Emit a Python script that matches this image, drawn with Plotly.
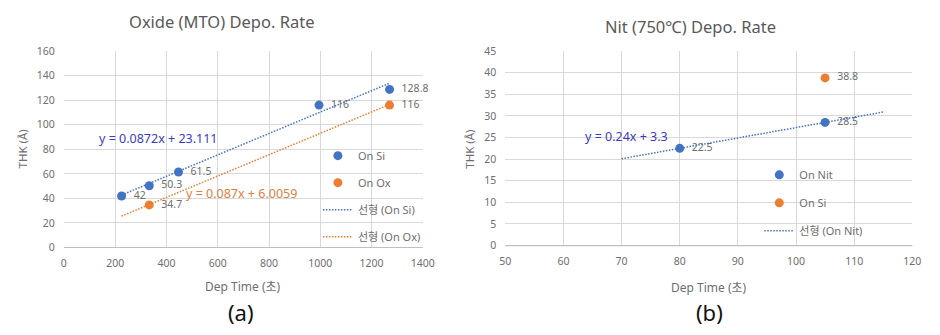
import plotly.graph_objects as go

# ---- Oxide (MTO) data ----
ox_si_time = [225, 333, 447, 995, 1270]
ox_si_thk = [42, 50.3, 61.5, 116, 128.8]
ox_ox_time = [333, 1270]
ox_ox_thk = [34.7, 116]
ox_fit_si = [0.0872, 23.111]     # slope, intercept
ox_fit_ox = [0.087, 6.0059]
ox_fit_span = [225, 1270]

# ---- Nitride (750℃) data ----
nit_nit_time = [80, 105]
nit_nit_thk = [22.5, 28.5]
nit_si_time = [105]
nit_si_thk = [38.8]
nit_fit = [0.24, 3.3]
nit_fit_span = [70, 115]

ox_xticks = [0, 200, 400, 600, 800, 1000, 1200, 1400]
ox_yticks = [0, 20, 40, 60, 80, 100, 120, 140, 160]
nit_xticks = [50, 60, 70, 80, 90, 100, 110, 120]
nit_yticks = [0, 5, 10, 15, 20, 25, 30, 35, 40, 45]

BLUE = "#4472C4"
ORANGE = "#ED7D31"
EQ_BLUE = "#3B3BC4"
EQ_ORANGE = "#D8823F"
GRAY = "#6E6E6E"
FONT = "Noto Sans, Noto Sans CJK KR, sans-serif"
DOT = "1.5px,1.5px"


def fit_line(coef, span):
    m, b = coef
    return span, [m * x + b for x in span]


def eq_text(coef):
    return f"y = {coef[0]}x + {coef[1]}"


def labels(values):
    # a little padding so the value sits clear of its marker
    return [f"  {v:g}" for v in values]


fig = go.Figure()

# left chart
fig.add_trace(go.Scatter(
    x=ox_si_time, y=ox_si_thk, mode="markers+text", name="On Si",
    marker=dict(color=BLUE, size=9), text=labels(ox_si_thk), cliponaxis=False,
    textposition="middle right", textfont=dict(size=10.5, color=GRAY),
    xaxis="x", yaxis="y", legend="legend", legendgroup="a1"))
fig.add_trace(go.Scatter(
    x=ox_ox_time, y=ox_ox_thk, mode="markers+text", name="On Ox",
    marker=dict(color=ORANGE, size=9), text=labels(ox_ox_thk), cliponaxis=False,
    textposition="middle right", textfont=dict(size=10.5, color=GRAY),
    xaxis="x", yaxis="y", legend="legend", legendgroup="a2"))
fx, fy = fit_line(ox_fit_si, ox_fit_span)
fig.add_trace(go.Scatter(
    x=fx, y=fy, mode="lines", name="선형 (On Si)",
    line=dict(color=BLUE, width=1.5, dash=DOT),
    xaxis="x", yaxis="y", legend="legend", legendgroup="a3"))
fx, fy = fit_line(ox_fit_ox, ox_fit_span)
fig.add_trace(go.Scatter(
    x=fx, y=fy, mode="lines", name="선형 (On Ox)",
    line=dict(color=ORANGE, width=1.5, dash=DOT),
    xaxis="x", yaxis="y", legend="legend", legendgroup="a4"))

# right chart
fig.add_trace(go.Scatter(
    x=nit_nit_time, y=nit_nit_thk, mode="markers+text", name="On Nit",
    marker=dict(color=BLUE, size=9), text=labels(nit_nit_thk), cliponaxis=False,
    textposition="middle right", textfont=dict(size=10.5, color=GRAY),
    xaxis="x2", yaxis="y2", legend="legend2", legendgroup="b1"))
fig.add_trace(go.Scatter(
    x=nit_si_time, y=nit_si_thk, mode="markers+text", name="On Si",
    marker=dict(color=ORANGE, size=9), text=labels(nit_si_thk), cliponaxis=False,
    textposition="middle right", textfont=dict(size=10.5, color=GRAY),
    xaxis="x2", yaxis="y2", legend="legend2", legendgroup="b2"))
fx, fy = fit_line(nit_fit, nit_fit_span)
fig.add_trace(go.Scatter(
    x=fx, y=fy, mode="lines", name="선형 (On Nit)",
    line=dict(color=BLUE, width=1.5, dash=DOT),
    xaxis="x2", yaxis="y2", legend="legend2", legendgroup="b3"))

axis_common = dict(
    showgrid=True, gridcolor="#D9D9D9", gridwidth=1, zeroline=False,
    showline=False, ticks="", tickfont=dict(size=10.5, color=GRAY, family=FONT),
    fixedrange=True,
)

fig.update_layout(
    width=940, height=335, margin=dict(l=0, r=0, t=0, b=0),
    paper_bgcolor="white", plot_bgcolor="white",
    font=dict(family=FONT, color=GRAY),
    xaxis=dict(domain=[59 / 940, 425 / 940], range=[0, 1400], tickvals=ox_xticks,
               anchor="y", ticklabelstandoff=8, **axis_common),
    yaxis=dict(domain=[1 - 251 / 335, 1 - 46 / 335], range=[0, 160], tickvals=ox_yticks,
               anchor="x", ticklabelstandoff=8, **axis_common),
    xaxis2=dict(domain=[509 / 940, 924 / 940], range=[50, 120], tickvals=nit_xticks,
                anchor="y2", ticklabelstandoff=8, **axis_common),
    yaxis2=dict(domain=[1 - 249 / 335, 1 - 46 / 335], range=[0, 45], tickvals=nit_yticks,
                anchor="x2", ticklabelstandoff=8, **axis_common),
    legend=dict(x=318 / 940, y=1 - 140 / 335, xanchor="left", yanchor="top",
                bgcolor="rgba(255,255,255,0)", font=dict(size=11, color=GRAY),
                tracegroupgap=8, traceorder="grouped"),
    legend2=dict(x=768 / 940, y=1 - 160 / 335, xanchor="left", yanchor="top",
                 bgcolor="rgba(255,255,255,0)", font=dict(size=11, color=GRAY),
                 tracegroupgap=9, traceorder="grouped"),
    showlegend=True,
)

# bottom axis lines
fig.add_shape(type="line", xref="x domain", yref="y domain", x0=0, x1=1, y0=0, y1=0,
              line=dict(color="#BFBFBF", width=1.2))
fig.add_shape(type="line", xref="x2 domain", yref="y2 domain", x0=0, x1=1, y0=0, y1=0,
              line=dict(color="#BFBFBF", width=1.2))

annotations = [
    # chart titles
    dict(text="Oxide (MTO) Depo. Rate", x=220 / 940, y=1 - 15 / 335,
         font=dict(size=16.5, color="#595959")),
    dict(text="Nit (750℃) Depo. Rate", x=698 / 940, y=1 - 20 / 335,
         font=dict(size=16.5, color="#595959")),
    # axis titles
    dict(text="THK (Å)", x=17 / 940, y=1 - 148 / 335, textangle=-90,
         font=dict(size=11.5, color=GRAY)),
    dict(text="THK (Å)", x=473 / 940, y=1 - 148 / 335, textangle=-90,
         font=dict(size=11.5, color=GRAY)),
    dict(text="Dep Time (초)", x=242 / 940, y=1 - 292 / 335,
         font=dict(size=12, color=GRAY)),
    dict(text="Dep Time (초)", x=717 / 940, y=1 - 293 / 335,
         font=dict(size=12, color=GRAY)),
    # panel labels
    dict(text="(a)", x=240 / 940, y=1 - 318 / 335, font=dict(size=22, color="#111111")),
    dict(text="(b)", x=717 / 940, y=1 - 318 / 335, font=dict(size=22, color="#111111")),
]
for a in annotations:
    fig.add_annotation(xref="paper", yref="paper", showarrow=False,
                       xanchor="center", yanchor="middle", **a)

# trendline equations
fig.add_annotation(x=369, y=89, xref="x", yref="y", text=eq_text(ox_fit_si),
                   showarrow=False, font=dict(size=12.5, color=EQ_BLUE))
fig.add_annotation(x=692, y=43.7, xref="x", yref="y", text=eq_text(ox_fit_ox),
                   showarrow=False, font=dict(size=12.5, color=EQ_ORANGE))
fig.add_annotation(x=70.9, y=25.3, xref="x2", yref="y2", text=eq_text(nit_fit),
                   showarrow=False, font=dict(size=12.5, color=EQ_BLUE))

fig.write_html("out.html")
